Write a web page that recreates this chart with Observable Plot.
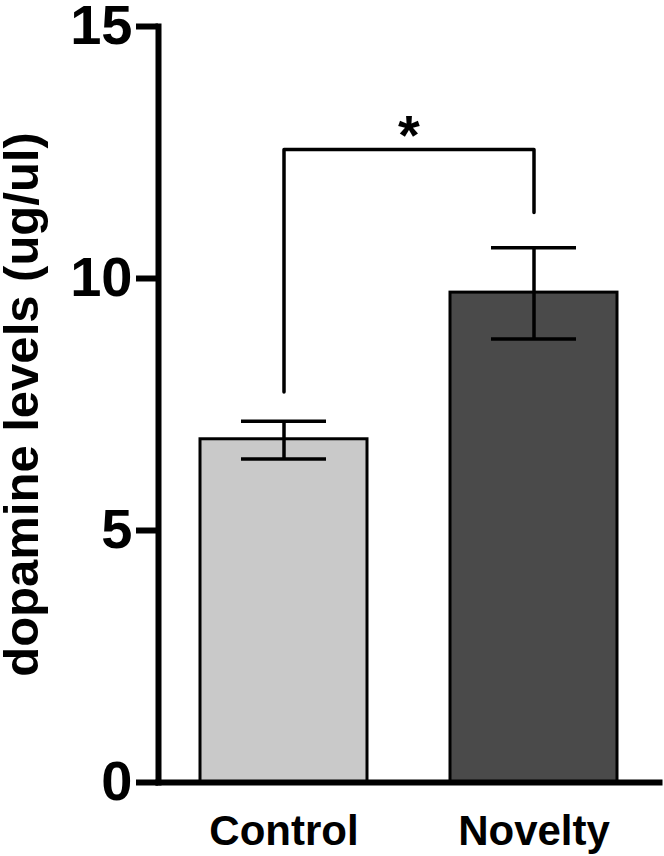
<!DOCTYPE html>
<html>
<head>
<meta charset="utf-8">
<script src="https://cdn.jsdelivr.net/npm/d3@7"></script>
<script src="https://cdn.jsdelivr.net/npm/@observablehq/plot@0.6"></script>
<style>
  html, body { margin: 0; padding: 0; background: #fff; }
  #chart { width: 664px; height: 856px; }
</style>
</head>
<body>
<div id="chart"></div>
<script>
const categories = ["Control", "Novelty"];
const means = [6.81, 9.72];
const errLow = [6.42, 8.80];
const errHigh = [7.17, 10.61];
const fills = ["#c9c9c9", "#4a4a4a"];
const yTicks = [0, 5, 10, 15];
const bracketX = ["Control", "Control", "Novelty", "Novelty"];
const bracketY = [7.75, 12.56, 12.56, 11.31];
const starText = ["*"];
const starY = [12.82];
const yLabel = "dopamine levels (ug/ul)";

const bars = categories.map((c, i) => ({cat: c, mean: means[i], lo: errLow[i], hi: errHigh[i]}));
const bracket = bracketX.map((c, i) => ({cat: c, y: bracketY[i]}));
const star = starText.map((t, i) => ({t, y: starY[i]}));

const chart = Plot.plot({
  width: 664,
  height: 856,
  marginLeft: 158,
  marginRight: 5,
  marginTop: 26,
  marginBottom: 74,
  style: {fontFamily: "'Liberation Sans', Arial, sans-serif", fontWeight: "bold", background: "#fff", color: "#000"},
  x: {domain: categories, paddingInner: 0.332, paddingOuter: 0.168, axis: null},
  y: {domain: [0, 15], axis: null},
  color: {domain: categories, range: fills},
  marks: [
    Plot.barY(bars, {x: "cat", y: "mean", fill: "cat", stroke: "#000", strokeWidth: 3}),
    Plot.ruleX(bars, {x: "cat", y1: "lo", y2: "hi", stroke: "#000", strokeWidth: 3.5}),
    Plot.tickY(bars, {x: "cat", y: "lo", stroke: "#000", strokeWidth: 3.5, insetLeft: 41, insetRight: 41}),
    Plot.tickY(bars, {x: "cat", y: "hi", stroke: "#000", strokeWidth: 3.5, insetLeft: 41, insetRight: 41}),
    Plot.line(bracket, {x: "cat", y: "y", stroke: "#000", strokeWidth: 3.5}),
    Plot.text(star, {y: "y", text: "t", fontSize: 56, fontWeight: "bold"}),
    Plot.frame({anchor: "left", stroke: "#000", strokeWidth: 6}),
    Plot.frame({anchor: "bottom", stroke: "#000", strokeWidth: 6}),
    Plot.axisY({ticks: yTicks, tickSize: 22, tickPadding: 4, strokeWidth: 6, fontSize: 56, fontWeight: "bold", label: null, tickFormat: d => String(d)}),
    Plot.axisX({tickSize: 0, tickPadding: 33, fontSize: 42, fontWeight: "bold", label: null}),
    Plot.text([yLabel], {frameAnchor: "left", rotate: -90, dx: -121, lineAnchor: "bottom", textAnchor: "middle", fontSize: 49, fontWeight: "bold"})
  ]
});
document.getElementById("chart").appendChild(chart);
</script>
</body>
</html>
